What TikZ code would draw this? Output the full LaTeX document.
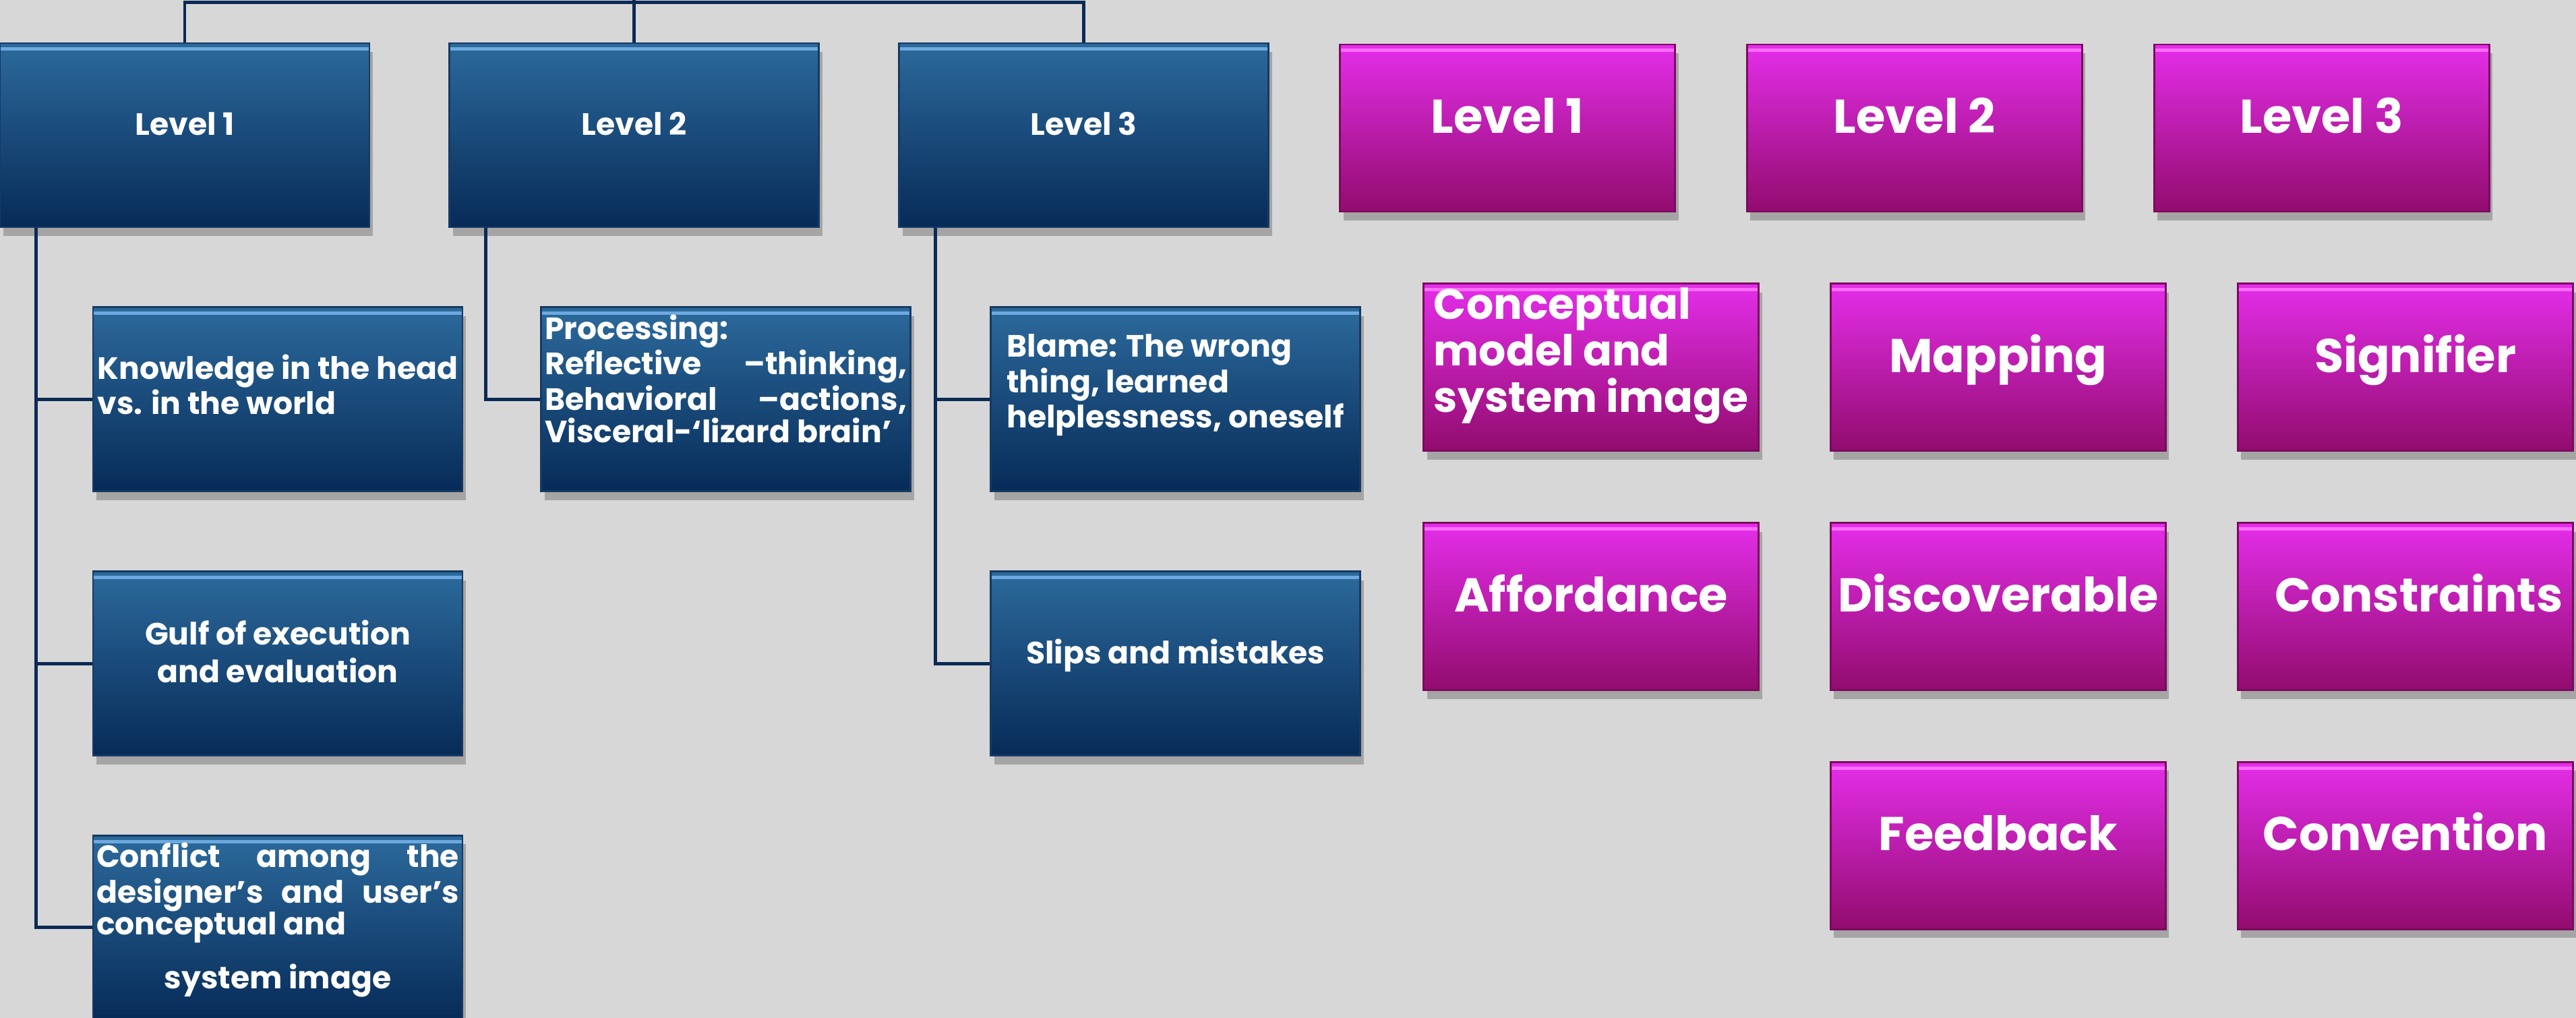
\documentclass[tikz,border=0pt]{standalone}
\usepackage{fontspec}
\setmainfont{Poppins}
\usepackage{tikz}
\usetikzlibrary{
  positioning,
  shadows
}
\definecolor{lvBlueTop}{HTML}{2C6A9C}
\definecolor{lvBlueBot}{HTML}{072B58}
\definecolor{lvBlueEdge}{HTML}{173A63}
\definecolor{lvBlueHi}{HTML}{6DA8DF}
\definecolor{lvPinkTop}{HTML}{E42EEA}
\definecolor{lvPinkBot}{HTML}{920C6E}
\definecolor{lvPinkEdge}{HTML}{7B0B5E}
\definecolor{lvPinkHi}{HTML}{FF6CFF}
\definecolor{lvLink}{HTML}{0B2A55}
\definecolor{lvBack}{HTML}{D7D7D7}
\tikzset{
  lvnode/.style={
    rectangle, inner sep=0.4mm, text=white, line width=0.8pt,
    drop shadow={shadow xshift=0.5mm, shadow yshift=-1.3mm, opacity=0.3, fill=black!80}
  },
  lvbox/.style={lvnode, top color=lvBlueTop, bottom color=lvBlueBot, draw=lvBlueEdge,
    minimum width=54.8mm, minimum height=27.3mm,
    font=\fontsize{13}{13.6}\selectfont\bfseries,
    path picture={\draw[lvBlueHi, line width=1.5pt]
      ([yshift=-2.5pt]path picture bounding box.north west) --
      ([yshift=-2.5pt]path picture bounding box.north east);}
  },
  lvone/.style={lvbox, text height=3.4mm, text depth=3.4mm},
  pkbox/.style={lvnode, top color=lvPinkTop, bottom color=lvPinkBot, draw=lvPinkEdge,
    minimum width=49.7mm, minimum height=24.8mm,
    font=\fontsize{20}{19.6}\selectfont\bfseries,
    path picture={\draw[lvPinkHi, line width=1.5pt]
      ([yshift=-2.5pt]path picture bounding box.north west) --
      ([yshift=-2.5pt]path picture bounding box.north east);}
  },
  pkone/.style={pkbox, text height=5.2mm, text depth=3.7mm},
  link/.style={lvLink, line width=1.4pt}
}
\newcommand{\padbelow}[1]{\rule[-#1]{0pt}{#1}}

\begin{document}
\begin{tikzpicture}[node distance=11.6mm]
  \useasboundingbox[fill=lvBack] (0,0) rectangle (38.21,-15.10);

  % blue tree
  \node[lvone] (lv1) at (2.74,-2.005) {Level 1};
  \node[lvone, right=of lv1] (lv2) {Level 2};
  \node[lvone, right=of lv2] (lv3) {Level 3};

  \node[lvbox, align=left, below=of lv1, xshift=13.8mm] (know)
    {Knowledge in the head\\vs. in the world\padbelow{4.4mm}};
  \node[lvbox, align=center, font=\fontsize{13}{16}\selectfont\bfseries, below=of know] (gulf)
    {Gulf of execution\\and evaluation\padbelow{3.6mm}};
  \node[lvbox, align=left, below=of gulf] (confl)
    {\makebox[53.8mm][s]{Conflict among the}\\
     \makebox[53.8mm][s]{designer’s and user’s}\\
     conceptual and\\[2.7mm]
     \makebox[53.8mm]{system image}\padbelow{3.6mm}};

  \node[lvbox, align=left, below=of lv2, xshift=13.6mm] (proc)
    {Processing:\\
     \makebox[53.7mm][s]{Reflective –thinking,}\\
     \makebox[53.7mm][s]{Behavioral –actions,}\\
     Visceral-‘lizard brain’\padbelow{6.2mm}};

  \node[lvbox, align=left, below=of lv3, xshift=13.6mm] (blame)
    {Blame: The wrong\\thing, learned\\helplessness, oneself\padbelow{5.4mm}};
  \node[lvone, below=of blame] (slips) {Slips and mistakes};

  % links
  \draw[link] (lv1.north) -- ++(0,0.59) -| (lv3.north);
  \draw[link] (lv2.north) -- (lv2.north |- 0,0.1);
  \draw[link] ([xshift=5.5mm]lv1.south west) |- (know.west);
  \draw[link] ([xshift=5.5mm]lv1.south west) |- (gulf.west);
  \draw[link] ([xshift=5.5mm]lv1.south west) |- (confl.west);
  \draw[link] ([xshift=5.5mm]lv2.south west) |- (proc.west);
  \draw[link] ([xshift=5.5mm]lv3.south west) |- (blame.west);
  \draw[link] ([xshift=5.5mm]lv3.south west) |- (slips.west);

  % pink grid
  \node[pkone] (pk1) at (22.36,-1.90) {Level 1};
  \node[pkone, right=10.4mm of pk1] (pk2) {Level 2};
  \node[pkone, right=10.4mm of pk2] (pk3) {Level 3};

  \node[pkbox, align=left, font=\fontsize{18}{19.6}\selectfont\bfseries,
        below=10.4mm of pk1, xshift=12.4mm] (concept)
    {Conceptual\\model and\\system image\padbelow{5.2mm}};
  \node[pkone, right=10.4mm of concept] (mapping) {Mapping};
  \node[pkone, right=10.4mm of mapping] (signif) {\hspace*{3mm}Signifier};

  \node[pkone, below=10.4mm of concept] (afford) {Affordance};
  \node[pkone, right=10.4mm of afford] (discov) {Discoverable};
  \node[pkone, right=10.4mm of discov] (constr) {\hspace*{4mm}Constraints};

  \node[pkone, below=10.4mm of discov] (feedb) {Feedback};
  \node[pkone, below=10.4mm of constr] (convent) {Convention};
\end{tikzpicture}
\end{document}
